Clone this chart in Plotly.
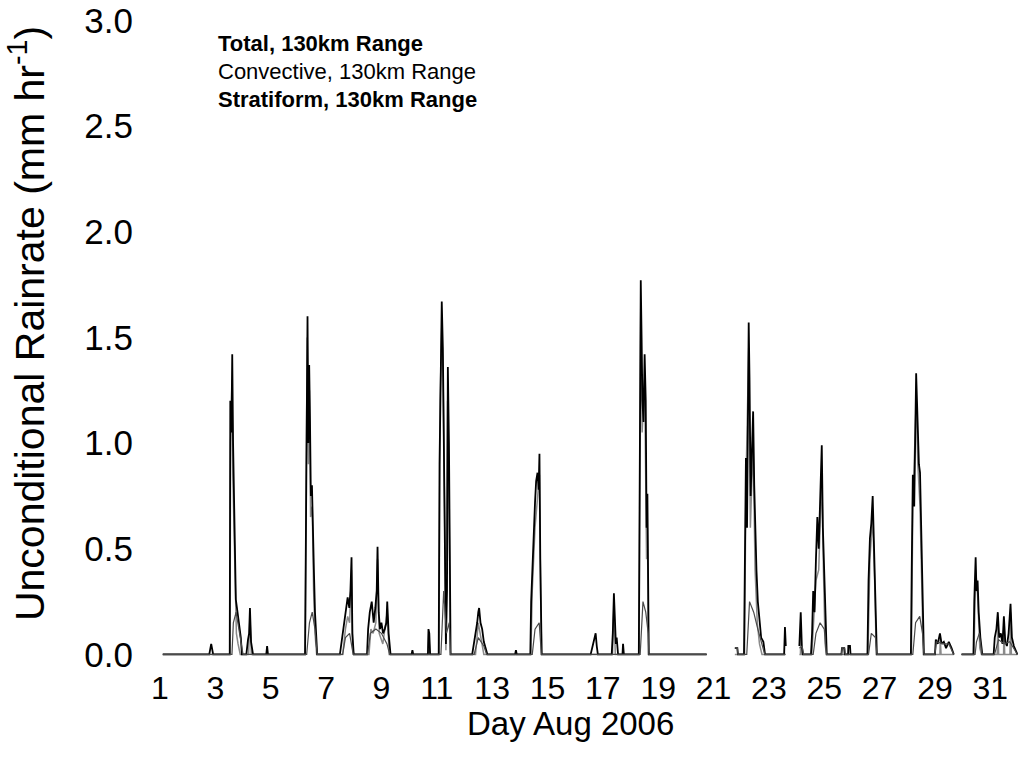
import plotly.graph_objects as go

# ---------------- data ----------------
day = [1.1, 2.78, 2.85, 2.92, 3.52, 3.54, 3.58, 3.61, 3.64, 3.67, 3.70, 3.74, 3.80, 3.86, 3.92, 3.96,
       4.12, 4.18, 4.22, 4.25, 4.29, 4.36, 4.84, 4.87, 4.90,
       6.24, 6.26, 6.29, 6.33, 6.36, 6.39, 6.42, 6.45, 6.49, 6.52, 6.56, 6.60, 6.64, 6.68,
       7.50, 7.55, 7.62, 7.70, 7.78, 7.84, 7.88, 7.92, 7.95, 8.00,
       8.48, 8.52, 8.58, 8.65, 8.72, 8.78, 8.83, 8.86, 8.90, 8.95, 9.00, 9.06, 9.12, 9.18, 9.21, 9.26, 9.33,
       10.09, 10.12, 10.15, 10.68, 10.70, 10.73, 10.76,
       11.07, 11.10, 11.14, 11.18, 11.22, 11.26, 11.29, 11.33, 11.37, 11.40, 11.44, 11.47, 11.50,
       12.28, 12.33, 12.40, 12.46, 12.50, 12.53, 12.58, 12.64, 12.70, 12.76, 12.83,
       13.83, 13.86, 13.89,
       14.38, 14.41, 14.45, 14.50, 14.55, 14.59, 14.64, 14.68, 14.71, 14.74, 14.79,
       16.56, 16.62, 16.70, 16.74, 16.78, 16.82,
       17.32, 17.36, 17.40, 17.43, 17.47, 17.50, 17.55, 17.71, 17.73, 17.76,
       18.30, 18.32, 18.35, 18.37, 18.40, 18.43, 18.47, 18.51, 18.55, 18.58, 18.61, 18.64, 18.66,
       20.75, 21.20, 21.77, 21.86, 21.88,
       22.10, 22.13, 22.17, 22.21, 22.25, 22.27, 22.30, 22.34, 22.38, 22.43, 22.47, 22.51, 22.55, 22.60,
       22.66, 22.72, 22.80, 22.86,
       23.55, 23.58, 23.61, 23.80, 24.10, 24.15, 24.19, 24.23,
       24.52, 24.56, 24.60, 24.65, 24.70, 24.75, 24.80, 24.84, 24.88, 24.91, 24.95, 25.00, 25.04, 25.09,
       25.62, 25.64, 25.72, 25.74, 25.86, 25.87, 25.93, 25.95,
       26.56, 26.60, 26.65, 26.70, 26.75, 26.80, 26.84, 26.90,
       28.13, 28.16, 28.20, 28.25, 28.29, 28.32, 28.35, 28.38, 28.42, 28.46, 28.50, 28.55, 28.60,
       29.00, 29.03, 29.10, 29.18, 29.24, 29.32, 29.40, 29.50, 29.60, 29.68, 29.80, 29.96,
       30.39, 30.42, 30.47, 30.50, 30.54, 30.58, 30.64, 30.71,
       31.12, 31.16, 31.22, 31.27, 31.32, 31.38, 31.44, 31.49, 31.54, 31.60, 31.66, 31.73, 31.78, 31.85,
       31.92, 31.98]

total = [0, 0, 0.05, 0, 0, 1.2, 1.05, 1.42, 1.0, 0.75, 0.4, 0.26, 0.2, 0.15, 0.08, 0,
         0, 0.07, 0.1, 0.22, 0.06, 0, 0, 0.04, 0,
         0, 0.4, 0.95, 1.60, 1.0, 1.37, 1.1, 0.75, 0.8, 0.55, 0.4, 0.2, 0.12, 0,
         0, 0.05, 0.12, 0.2, 0.27, 0.22, 0.3, 0.46, 0.1, 0,
         0, 0.12, 0.2, 0.25, 0.15, 0.22, 0.3, 0.51, 0.2, 0.12, 0.15, 0.1, 0.12, 0.15, 0.25, 0.1, 0,
         0, 0.02, 0, 0, 0.12, 0.1, 0,
         0, 0.9, 1.4, 1.67, 1.45, 1.0, 0.5, 0.05, 0.3, 1.36, 1.0, 0.3, 0,
         0, 0.04, 0.1, 0.15, 0.2, 0.22, 0.15, 0.12, 0.06, 0.03, 0,
         0, 0.02, 0,
         0, 0.25, 0.4, 0.6, 0.72, 0.82, 0.86, 0.78, 0.95, 0.45, 0,
         0, 0.03, 0.07, 0.1, 0.04, 0,
         0, 0.1, 0.29, 0.2, 0.05, 0.08, 0, 0, 0.05, 0,
         0, 0.5, 1.4, 1.77, 1.5, 1.2, 1.1, 1.42, 1.2, 0.6, 0.76, 0.2, 0,
         0, None, 0.03, 0.03, 0,
         0, 0.4, 0.93, 0.6, 1.2, 1.57, 1.3, 0.75, 0.93, 1.15, 0.8, 0.55, 0.4, 0.25,
         0.15, 0.08, 0.06, 0,
         0, 0.13, 0.04, None, 0.04, 0.2, 0.04, 0,
         0, 0.1, 0.3, 0.2, 0.45, 0.65, 0.5, 0.7, 0.8, 0.99, 0.6, 0.4, 0.15, 0,
         0, 0.03, 0.03, 0, 0, 0.04, 0.04, 0,
         0, 0.35, 0.55, 0.62, 0.75, 0.55, 0.3, 0,
         0, 0.4, 0.85, 0.7, 1.0, 1.33, 1.2, 1.04, 0.9, 0.86, 0.6, 0.3, 0,
         0, 0.07, 0.05, 0.1, 0.05, 0.06, 0.03, 0.06, 0.03, 0, None, 0,
         0, 0.25, 0.46, 0.3, 0.35, 0.2, 0.08, 0,
         0, 0.08, 0.12, 0.2, 0.08, 0.1, 0.05, 0.18, 0.06, 0.04, 0.1, 0.24, 0.08, 0.04,
         0.02, 0]

conv_day = [1.1, 3.53, 3.55, 3.60, 3.63, 3.67, 3.71, 3.76, 3.82, 3.90, 4.20, 4.25, 4.30,
            6.25, 6.28, 6.32, 6.36, 6.40, 6.44, 6.50, 6.55, 6.60, 6.66,
            7.60, 7.70, 7.78, 7.85, 7.92, 7.96, 8.00,
            8.55, 8.62, 8.70, 8.80, 8.86, 8.92, 9.05, 9.21, 9.28,
            10.69, 10.71, 10.75,
            11.08, 11.12, 11.18, 11.23, 11.28, 11.33, 11.39, 11.44, 11.49,
            12.40, 12.50, 12.60, 12.70,
            14.40, 14.45, 14.55, 14.64, 14.71, 14.75, 14.79,
            17.35, 17.40, 17.45,
            18.31, 18.35, 18.37, 18.42, 18.51, 18.58, 18.61, 18.65,
            20.75, 21.20, 21.77,
            22.12, 22.17, 22.27, 22.33, 22.43, 22.50, 22.58, 22.66, 22.75,
            23.60, 23.80, 24.10, 24.14, 24.15, 24.18,
            24.55, 24.70, 24.80, 24.91, 24.97, 25.03, 25.08,
            26.58, 26.65, 26.75, 26.82, 26.88,
            28.15, 28.20, 28.32, 28.38, 28.46, 28.53, 28.58,
            29.18, 29.19, 29.22, 29.68, 29.80, 29.96,
            30.41, 30.47, 30.54, 30.62, 30.68,
            31.25, 31.27, 31.30, 31.48, 31.49, 31.52, 31.71, 31.73, 31.76, 31.98]

convective = [0, 0, 1.0, 1.3, 0.85, 0.6, 0.25, 0.1, 0.05, 0, 0, 0.18, 0,
              0, 0.8, 1.5, 0.9, 1.25, 0.65, 0.7, 0.3, 0.1, 0,
              0, 0.12, 0.18, 0.15, 0.4, 0.03, 0,
              0, 0.12, 0.1, 0.15, 0.45, 0.1, 0.05, 0.2, 0,
              0, 0.1, 0,
              0, 1.2, 1.55, 1.3, 0.7, 0.02, 1.2, 0.8, 0,
              0, 0.15, 0.08, 0,
              0, 0.3, 0.6, 0.75, 0.85, 0.3, 0,
              0, 0.24, 0,
              0, 1.25, 1.65, 1.05, 1.3, 0.45, 0.6, 0,
              0, None, 0,
              0, 0.8, 1.45, 0.6, 1.0, 0.4, 0.15, 0.05, 0,
              0, None, 0, 0, 0.15, 0,
              0, 0.35, 0.4, 0.85, 0.4, 0.05, 0,
              0, 0.45, 0.65, 0.35, 0,
              0, 0.7, 1.2, 0.9, 0.7, 0.2, 0,
              0, 0.08, 0, 0, None, 0,
              0, 0.4, 0.28, 0.03, 0,
              0, 0.16, 0, 0, 0.14, 0, 0, 0.2, 0, 0]

strat_day = [1.1, 3.60, 3.65, 3.75, 3.85, 3.95, 4.00,
             6.30, 6.40, 6.50, 6.60, 6.68,
             7.60, 7.70, 7.85, 7.98,
             8.50, 8.60, 8.80, 9.00, 9.20, 9.30,
             11.15, 11.25, 11.35, 11.45, 11.50,
             12.35, 12.50, 12.70, 12.80,
             14.45, 14.55, 14.70, 14.78,
             18.35, 18.45, 18.55, 18.64, 18.66,
             20.75, 21.20, 21.77, 21.86, 21.88,
             22.20, 22.30, 22.45, 22.60, 22.75, 22.85,
             23.60, 23.80, 24.10, 24.20, 24.25,
             24.60, 24.70, 24.85, 25.00, 25.08,
             25.62, 25.64, 25.74, 25.76,
             26.60, 26.70, 26.85, 26.90,
             28.20, 28.30, 28.45, 28.55, 28.60,
             29.00, 29.05, 29.30, 29.50, 29.68, 29.80, 29.96,
             30.45, 30.50, 30.60, 30.70,
             31.15, 31.30, 31.50, 31.70, 31.90, 31.98]

stratiform = [0, 0, 0.15, 0.2, 0.12, 0.05, 0,
              0, 0.15, 0.2, 0.12, 0,
              0, 0.08, 0.1, 0,
              0, 0.1, 0.12, 0.1, 0.05, 0,
              0, 0.3, 0.1, 0.15, 0,
              0, 0.08, 0.04, 0,
              0, 0.12, 0.15, 0,
              0, 0.25, 0.2, 0.1, 0,
              0, None, 0.03, 0.03, 0,
              0, 0.25, 0.2, 0.12, 0.05, 0,
              0, None, 0.03, 0.04, 0,
              0, 0.1, 0.15, 0.12, 0,
              0, 0.03, 0.03, 0,
              0, 0.1, 0.08, 0,
              0, 0.15, 0.18, 0.1, 0,
              0, 0.06, 0.05, 0.05, 0, None, 0,
              0, 0.06, 0.1, 0,
              0, 0.07, 0.05, 0.06, 0.02, 0]

x_ticks = [1, 3, 5, 7, 9, 11, 13, 15, 17, 19, 21, 23, 25, 27, 29, 31]
y_ticks = [0.0, 0.5, 1.0, 1.5, 2.0, 2.5, 3.0]
y_tick_text = ["0.0", "0.5", "1.0", "1.5", "2.0", "2.5", "3.0"]
legend_labels = ["Total, 130km Range", "Convective, 130km Range", "Stratiform, 130km Range"]

FONT = "Liberation Sans, Arial, Helvetica, sans-serif"

fig = go.Figure()
fig.add_trace(go.Scatter(x=conv_day, y=convective, mode="lines", name=legend_labels[1],
                         line=dict(color="#8a8a8a", width=1.5), connectgaps=False))
fig.add_trace(go.Scatter(x=day, y=total, mode="lines", name=legend_labels[0],
                         line=dict(color="#000000", width=1.8), connectgaps=False))
fig.add_trace(go.Scatter(x=strat_day, y=stratiform, mode="lines", name=legend_labels[2],
                         line=dict(color="#4a4a4a", width=1.2), connectgaps=False))

# plot area: value 0 at y=655 px, value 3 at y=17 px (212.67 px per unit)
L, R, T, B = 160, 1, 4, 117
W, H = 1019, 774
pw, ph = W - L - R, H - T - B
Y_BOT = -0.012
Y_TOP = Y_BOT + ph / 212.67

def px(xp):
    return (xp - L) / pw

def py(yp):
    return (H - B - yp) / ph

annotations = []
for txt, yp, bold in zip(legend_labels, [40, 68, 96], [True, False, True]):
    annotations.append(dict(
        text=f"<b>{txt}</b>" if bold else txt, xref="paper", yref="paper",
        x=px(216), y=py(yp), xanchor="left", yanchor="middle", showarrow=False,
        font=dict(family=FONT, size=22, color="#000")))

annotations.append(dict(text="Day Aug 2006", xref="paper", yref="paper",
                        x=px(570), y=py(724), xanchor="center", yanchor="middle",
                        showarrow=False, font=dict(family=FONT, size=33, color="#000")))
annotations.append(dict(text="Unconditional Rainrate (mm hr<sup>-1</sup>)", xref="paper", yref="paper",
                        x=px(27), y=py(322), xanchor="center", yanchor="middle", textangle=-90,
                        showarrow=False, font=dict(family=FONT, size=41, color="#000")))

fig.update_layout(
    width=W, height=H,
    margin=dict(l=L, r=R, t=T, b=B, pad=0),
    paper_bgcolor="white", plot_bgcolor="white",
    showlegend=False,
    font=dict(family=FONT, color="#000"),
    annotations=annotations,
    xaxis=dict(range=[1, 32], tickmode="array", tickvals=x_ticks,
               ticktext=[str(v) for v in x_ticks], showgrid=False, zeroline=False,
               showline=False, ticks="", ticklabelstandoff=9, ticklabeloverflow="allow",
               tickfont=dict(family=FONT, size=32, color="#000")),
    yaxis=dict(range=[Y_BOT, Y_TOP], tickmode="array", tickvals=y_ticks, ticktext=y_tick_text,
               showgrid=False, zeroline=False, showline=False, ticks="",
               ticklabelstandoff=26, ticklabeloverflow="allow",
               tickfont=dict(family=FONT, size=35, color="#000")),
)

fig.write_html("out.html")
